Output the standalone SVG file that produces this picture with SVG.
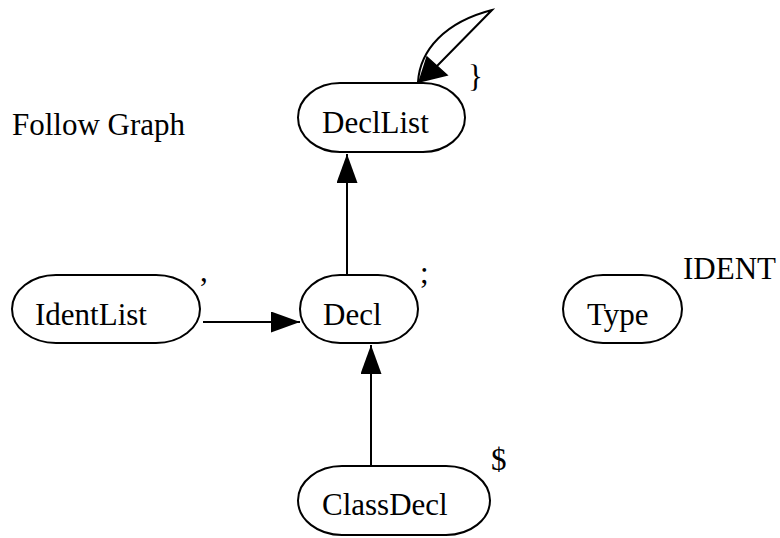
<svg xmlns="http://www.w3.org/2000/svg" width="780" height="538" viewBox="0 0 780 538">
<style>
  text { font-family: "Liberation Serif", "Times New Roman", serif; font-size: 31px; fill: #000; }
  .node { fill: #fff; stroke: #000; stroke-width: 2; }
  .edge { fill: none; stroke: #000; stroke-width: 2; }
  .head { fill: #000; stroke: #000; stroke-width: 1.5; stroke-linejoin: miter; }
</style>
<defs>
  <marker id="ah" markerWidth="29" markerHeight="21" refX="29" refY="10.5" orient="auto" markerUnits="userSpaceOnUse">
    <path d="M0,0 L29,10.5 L0,21 z" fill="#000"/>
  </marker>
</defs>
<rect width="780" height="538" fill="#fff"/>
<text x="12" y="135">Follow Graph</text>
<g id="connectors">
  <path class="edge" d="M418,82 C420,50 445,22 492,10 L437,66"/>
  <polygon class="head" points="419,82 427,57 447,75"/>
  <line class="edge" x1="347" y1="275" x2="347" y2="154" marker-end="url(#ah)"/>
  <line class="edge" x1="203" y1="322" x2="300" y2="322" marker-end="url(#ah)"/>
  <line class="edge" x1="371" y1="466" x2="371" y2="345" marker-end="url(#ah)"/>
</g>
<g id="DeclList">
  <rect class="node" x="298" y="83" width="167" height="69" rx="42" ry="34.5"/>
  <text x="322" y="133">DeclList</text>
  <text x="468" y="87">}</text>
</g>
<g id="IdentList">
  <rect class="node" x="12" y="275" width="188" height="68" rx="44" ry="34"/>
  <text x="35" y="325">IdentList</text>
  <text x="200" y="281">,</text>
</g>
<g id="Decl">
  <rect class="node" x="300" y="275" width="118" height="68" rx="40" ry="34"/>
  <text x="323" y="325">Decl</text>
  <text x="420" y="283">;</text>
</g>
<g id="Type">
  <rect class="node" x="563" y="275" width="119" height="68" rx="40" ry="34"/>
  <text x="587" y="325">Type</text>
  <text x="683" y="279">IDENT</text>
</g>
<g id="ClassDecl">
  <rect class="node" x="298" y="466" width="192" height="69" rx="44" ry="34.5"/>
  <text x="322" y="515">ClassDecl</text>
  <text x="491" y="470">$</text>
</g>
</svg>
